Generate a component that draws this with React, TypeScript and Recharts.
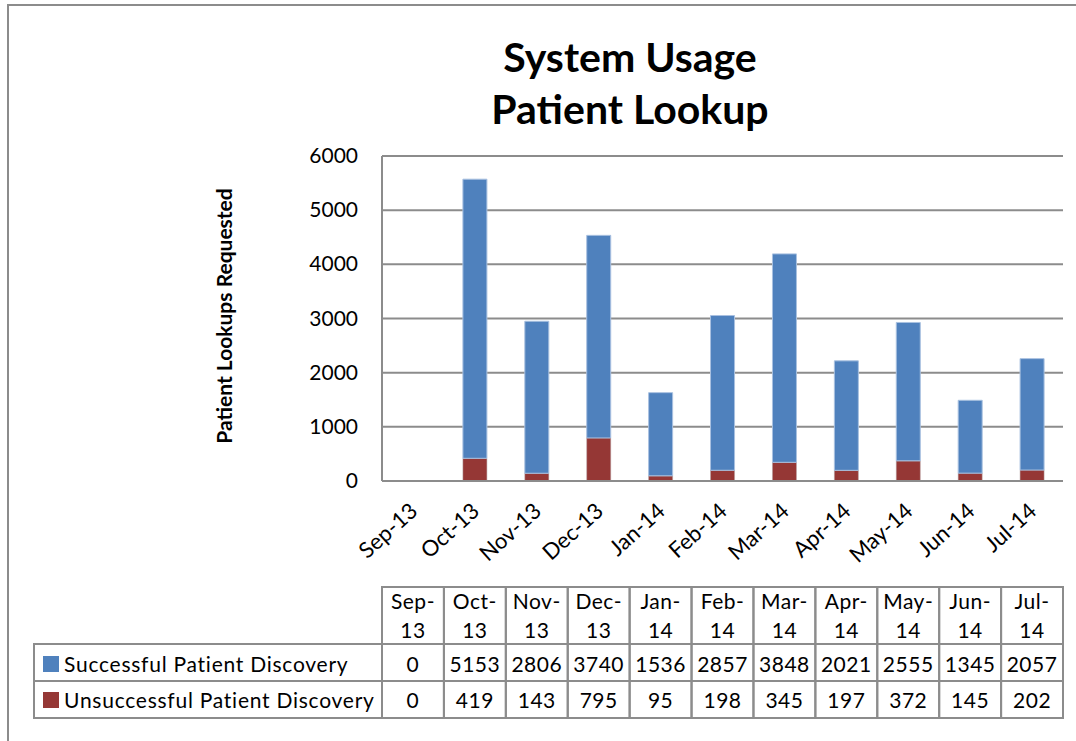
import React from "react";
import { BarChart, Bar, XAxis, YAxis, CartesianGrid } from "recharts";

const months = ["Sep-13", "Oct-13", "Nov-13", "Dec-13", "Jan-14", "Feb-14", "Mar-14", "Apr-14", "May-14", "Jun-14", "Jul-14"];
const successful = [0, 5153, 2806, 3740, 1536, 2857, 3848, 2021, 2555, 1345, 2057];
const unsuccessful = [0, 419, 143, 795, 95, 198, 345, 197, 372, 145, 202];
const yTicks = [0, 1000, 2000, 3000, 4000, 5000, 6000];
const seriesNames = ["Successful Patient Discovery", "Unsuccessful Patient Discovery"];
const titleLines = ["System Usage", "Patient Lookup"];
const yLabel = "Patient Lookups Requested";

const BLUE = "#4F81BD";
const RED = "#953735";
const GRID = "#8c8c8c";
const FONT = "Lato, 'Liberation Sans', Arial, sans-serif";

const data = months.map((m, i) => ({ month: m, successful: successful[i], unsuccessful: unsuccessful[i] }));

const W = 1076;
const H = 741;
const PLOT_LEFT = 382;
const PLOT_RIGHT = 1063;
const PLOT_TOP = 156;
const PLOT_BOTTOM = 481;

const XTick = (props: any) => {
  const { x, y, payload } = props;
  const ax = x + 6;
  const ay = y + 32;
  return (
    <text x={ax} y={ay} transform={`rotate(-42 ${ax} ${ay})`} textAnchor="end" fontSize={22} fontFamily={FONT} fill="#000">
      {payload.value}
    </text>
  );
};

const YTick = (props: any) => {
  const { x, y, payload } = props;
  return (
    <text x={x} y={y + 7} textAnchor="end" fontSize={21} fontFamily={FONT} fill="#000">
      {payload.value}
    </text>
  );
};

export default function App() {
  const n = months.length;
  const colW = (PLOT_RIGHT - PLOT_LEFT) / n;
  const headTop = 587;
  const row1Top = 644;
  const row2Top = 681;
  const tableBottom = 718;
  const labelLeft = 34;
  const values = [successful, unsuccessful];
  const colors = [BLUE, RED];
  const rowTops = [row1Top, row2Top];
  const rowBottoms = [row2Top, tableBottom];
  const baselines = [672, 708];

  return (
    <div style={{ position: "absolute", left: 0, top: 0, width: W, height: H, background: "#fff" }}>
      <BarChart
        width={W}
        height={H}
        data={data}
        margin={{ top: PLOT_TOP, right: W - PLOT_RIGHT, bottom: 0, left: 0 }}
        barSize={24}
      >
        <CartesianGrid vertical={false} stroke={GRID} strokeWidth={2} />
        <XAxis
          dataKey="month"
          height={H - PLOT_BOTTOM}
          interval={0}
          tickLine={false}
          tickSize={0}
          tickMargin={0}
          axisLine={{ stroke: GRID, strokeWidth: 2 }}
          tick={<XTick />}
        />
        <YAxis
          width={PLOT_LEFT}
          domain={[0, 6000]}
          ticks={yTicks}
          interval={0}
          tickLine={false}
          tickSize={0}
          tickMargin={24}
          axisLine={{ stroke: GRID, strokeWidth: 2 }}
          tick={<YTick />}
        />
        <Bar dataKey="unsuccessful" stackId="a" fill={RED} stroke="#b4a0a0" strokeWidth={0.5} isAnimationActive={false} />
        <Bar dataKey="successful" stackId="a" fill={BLUE} stroke="#a9c1e0" strokeWidth={1} isAnimationActive={false} />
      </BarChart>

      <svg width={W} height={H} style={{ position: "absolute", left: 0, top: 0, pointerEvents: "none" }}>
        {/* frame */}
        <polyline points={`8,${H} 8,5 ${W},5`} fill="none" stroke="#8c8c8c" strokeWidth={2} />

        {/* title */}
        <text x={630} y={72} textAnchor="middle" fontSize={41} fontWeight="bold" fontFamily={FONT} fill="#000">
          {titleLines[0]}
        </text>
        <text x={630} y={124} textAnchor="middle" fontSize={41} fontWeight="bold" fontFamily={FONT} fill="#000">
          {titleLines[1]}
        </text>

        {/* y-axis label */}
        <text
          x={232}
          y={316}
          transform="rotate(-90 232 316)"
          textAnchor="middle"
          fontSize={21}
          fontWeight="bold"
          fontFamily={FONT}
          fill="#000"
        >
          {yLabel}
        </text>

        {/* data table header */}
        {months.map((m, i) => {
          const x0 = PLOT_LEFT + i * colW;
          const parts = m.split("-");
          return (
            <g key={m}>
              <rect x={x0} y={headTop} width={colW} height={row1Top - headTop} fill="none" stroke={GRID} strokeWidth={2} />
              <text x={x0 + colW / 2} y={609} textAnchor="middle" fontSize={21} fontFamily={FONT} fill="#000" letterSpacing={0.5}>
                {parts[0] + "-"}
              </text>
              <text x={x0 + colW / 2} y={638} textAnchor="middle" fontSize={21} fontFamily={FONT} fill="#000" letterSpacing={0.5}>
                {parts[1]}
              </text>
            </g>
          );
        })}

        {/* data rows */}
        {values.map((vals, r) => (
          <g key={r}>
            <rect
              x={labelLeft}
              y={rowTops[r]}
              width={PLOT_LEFT - labelLeft}
              height={rowBottoms[r] - rowTops[r]}
              fill="none"
              stroke={GRID}
              strokeWidth={2}
            />
            <rect x={43} y={baselines[r] - 16} width={16} height={16} fill={colors[r]} />
            <text x={64} y={baselines[r]} fontSize={21} fontFamily={FONT} fill="#000" letterSpacing={0.75}>
              {seriesNames[r]}
            </text>
            {vals.map((v, i) => {
              const x0 = PLOT_LEFT + i * colW;
              return (
                <g key={i}>
                  <rect
                    x={x0}
                    y={rowTops[r]}
                    width={colW}
                    height={rowBottoms[r] - rowTops[r]}
                    fill="none"
                    stroke={GRID}
                    strokeWidth={2}
                  />
                  <text x={x0 + colW / 2} y={baselines[r]} textAnchor="middle" fontSize={21} fontFamily={FONT} fill="#000" letterSpacing={0.5}>
                    {v}
                  </text>
                </g>
              );
            })}
          </g>
        ))}
      </svg>
    </div>
  );
}
